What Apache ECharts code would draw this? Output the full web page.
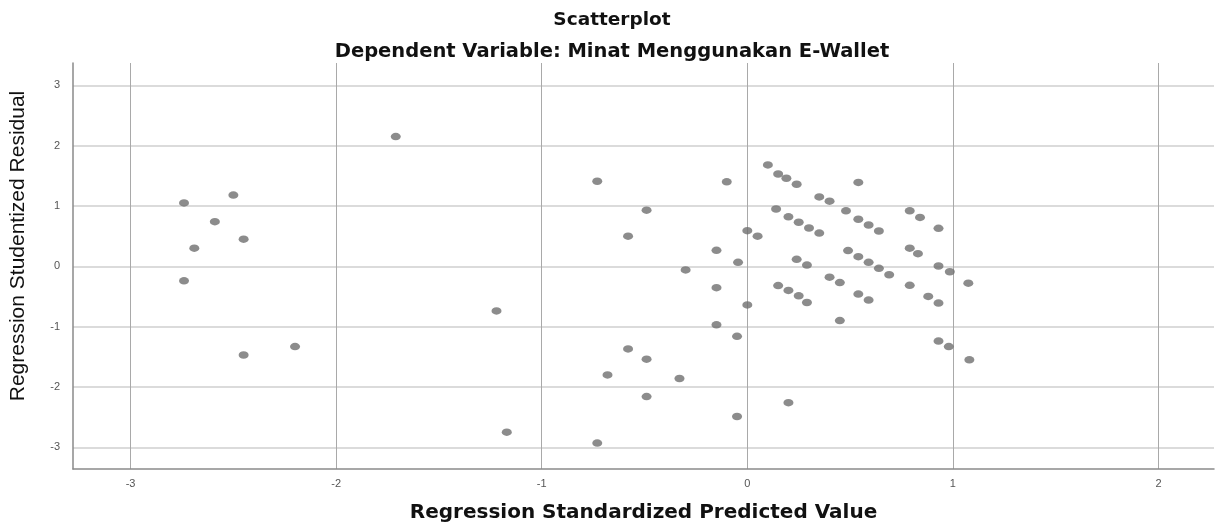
<!DOCTYPE html>
<html>
<head>
<meta charset="utf-8">
<title>Scatterplot</title>
<script src="https://cdn.jsdelivr.net/npm/echarts@6/dist/echarts.min.js"></script>
<style>
  html, body { margin: 0; padding: 0; background: #fff; }
  #main { width: 1221px; height: 527px; }
</style>
</head>
<body>
<div id="main"></div>
<script>
// Regression Standardized Predicted Value (x) / Regression Studentized Residual (y)
var predicted = [
  -2.74, -2.50, -2.59, -2.45, -2.69, -2.74, -2.45, -2.20, -1.71,
  -1.22, -1.17, -0.73, -0.49, -0.58, -0.58, -0.49, -0.68, -0.33, -0.49, -0.73, -0.30,
  -0.10, -0.15, -0.045, -0.15, -0.15, -0.05, -0.05, 0.00, 0.05, 0.00,
  0.10, 0.15, 0.19, 0.24, 0.54, 0.35, 0.40, 0.14, 0.20, 0.25, 0.30, 0.35,
  0.48, 0.54, 0.59, 0.64, 0.79, 0.84, 0.93, 0.49, 0.54, 0.59, 0.64, 0.69,
  0.79, 0.83, 0.93, 0.985, 1.075, 0.24, 0.29, 0.40, 0.45, 0.15, 0.20, 0.25, 0.29,
  0.54, 0.59, 0.79, 0.88, 0.93, 0.45, 0.93, 0.98, 1.08, 0.20
];
var residual = [
  1.05, 1.18, 0.74, 0.45, 0.30, -0.24, -1.47, -1.33, 2.15,
  -0.74, -2.75, 1.41, 0.93, 0.50, -1.37, -1.54, -1.80, -1.86, -2.16, -2.93, -0.06,
  1.40, 0.265, 0.066, -0.355, -0.97, -1.16, -2.49, 0.59, 0.50, -0.64,
  1.68, 1.53, 1.46, 1.36, 1.39, 1.15, 1.08, 0.95, 0.82, 0.73, 0.635, 0.55,
  0.92, 0.78, 0.685, 0.585, 0.92, 0.81, 0.63, 0.26, 0.16, 0.066, -0.033, -0.14,
  0.30, 0.21, 0.005, -0.09, -0.28, 0.116, 0.02, -0.18, -0.27, -0.32, -0.40, -0.49, -0.60,
  -0.46, -0.56, -0.315, -0.50, -0.61, -0.90, -1.24, -1.33, -1.55, -2.26
];

var points = [];
for (var i = 0; i < predicted.length; i++) {
  points.push([predicted[i], residual[i]]);
}

var myChart = echarts.init(document.getElementById('main'));

var option = {
  animation: false,
  backgroundColor: '#ffffff',
  title: [
    {
      text: 'Scatterplot',
      left: 607, top: 6, textAlign: 'center',
      textStyle: { fontFamily: 'DejaVu Sans', fontWeight: 'bold', fontSize: 18.5, color: '#111' }
    },
    {
      text: 'Dependent Variable: Minat Menggunakan E-Wallet',
      left: 607, top: 37, textAlign: 'center',
      textStyle: { fontFamily: 'DejaVu Sans', fontWeight: 'bold', fontSize: 19.5, color: '#111' }
    }
  ],
  grid: { left: 73, right: 7, top: 63, bottom: 58, containLabel: false, outerBoundsMode: 'none' },
  xAxis: {
    type: 'value',
    min: -3.28,
    max: 2.27,
    splitNumber: 5,
    name: 'Regression Standardized Predicted Value',
    nameLocation: 'middle',
    nameGap: 34,
    nameTextStyle: { fontFamily: 'DejaVu Sans', fontWeight: 'bold', fontSize: 20, color: '#111' },
    axisLine: { onZero: false, lineStyle: { color: '#8a8a8a', width: 1.5 } },
    axisTick: { show: false },
    axisLabel: { showMinLabel: false, showMaxLabel: false, margin: 9, fontFamily: 'Liberation Sans', fontSize: 11, color: '#555' },
    splitLine: { show: true, showMinLine: false, showMaxLine: false, lineStyle: { color: '#a9a9a9', width: 1 } }
  },
  yAxis: {
    type: 'value',
    min: -3.36,
    max: 3.37,
    splitNumber: 5,
    name: 'Regression Studentized Residual',
    nameLocation: 'middle',
    nameGap: 44,
    nameTextStyle: { fontFamily: 'Liberation Sans', fontSize: 21, color: '#111', padding: [0, 0, 0, 40] },
    axisLine: { onZero: false, lineStyle: { color: '#8a8a8a', width: 1.5 } },
    axisTick: { show: false },
    axisLabel: { showMinLabel: false, showMaxLabel: false, margin: 13, fontFamily: 'Liberation Sans', fontSize: 11, color: '#555' },
    splitLine: { show: true, showMinLine: false, showMaxLine: false, lineStyle: { color: '#cfcfcf', width: 1.5 } }
  },
  series: [
    {
      type: 'scatter',
      symbol: 'circle',
      symbolSize: [10, 7.5],
      itemStyle: { color: '#6f6f6f' },
      data: points
    }
  ]
};

myChart.setOption(option);
window.addEventListener('resize', function () { myChart.resize(); });
</script>
</body>
</html>
